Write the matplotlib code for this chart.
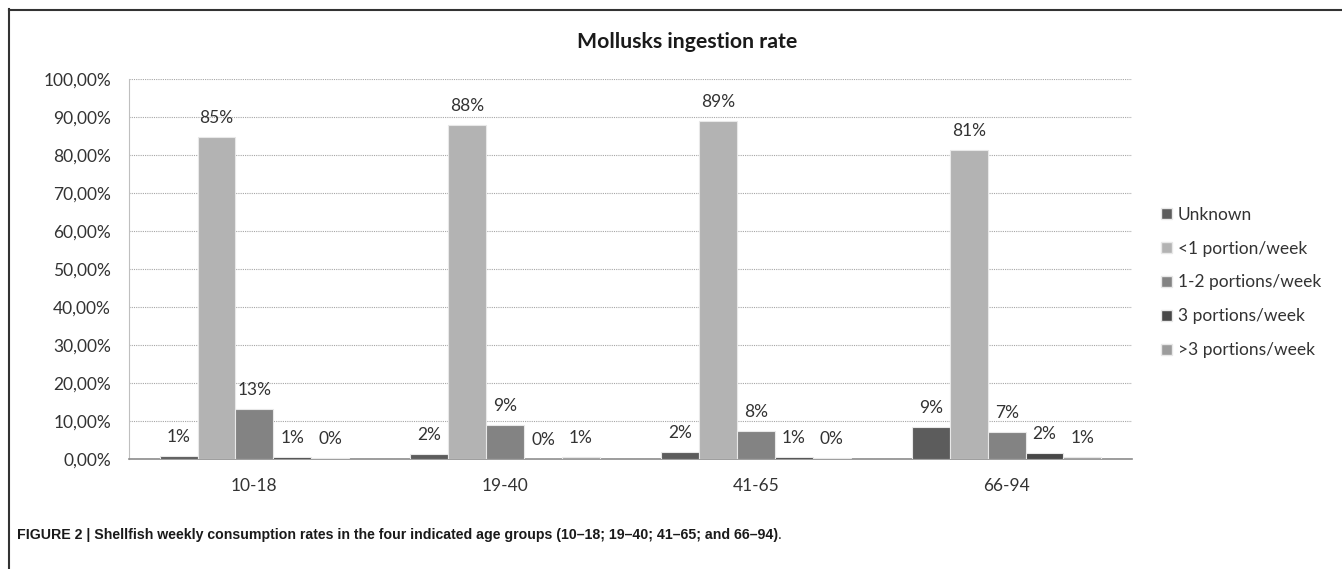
import matplotlib
matplotlib.use("Agg")
import matplotlib.pyplot as plt
import numpy as np
from matplotlib.lines import Line2D
from matplotlib.patches import Patch

# Data
groups = ["10-18", "19-40", "41-65", "66-94"]
series = ["Unknown", "<1 portion/week", "1-2 portions/week", "3 portions/week", ">3 portions/week"]
unknown = [0.9, 1.4, 1.8, 8.5]
less_one = [84.8, 88.0, 89.0, 81.2]
one_two = [13.1, 9.0, 7.4, 7.0]
three = [0.5, 0.1, 0.5, 1.5]
more_three = [0.2, 0.5, 0.2, 0.5]
labels_unknown = ["1%", "2%", "2%", "9%"]
labels_less_one = ["85%", "88%", "89%", "81%"]
labels_one_two = ["13%", "9%", "8%", "7%"]
labels_three = ["1%", "0%", "1%", "2%"]
labels_more_three = ["0%", "1%", "0%", "1%"]
yticks = [0, 10, 20, 30, 40, 50, 60, 70, 80, 90, 100]
ytick_labels = ["0,00%", "10,00%", "20,00%", "30,00%", "40,00%", "50,00%",
                "60,00%", "70,00%", "80,00%", "90,00%", "100,00%"]

values = [unknown, less_one, one_two, three, more_three]
labels = [labels_unknown, labels_less_one, labels_one_two, labels_three, labels_more_three]
colors = ["#5c5c5c", "#b3b3b3", "#838383", "#474747", "#9c9c9c"]

plt.rcParams["font.family"] = ["Lato", "DejaVu Sans"]

fig = plt.figure(figsize=(13.42, 5.69), dpi=100)
ax = fig.add_axes([129 / 1342, 1 - 459 / 569, 1003 / 1342, 380 / 569])

x = np.arange(len(groups))
w = 0.151
for i, (vals, labs, c) in enumerate(zip(values, labels, colors)):
    pos = x + (i - 2) * w
    ax.bar(pos, vals, width=w, color=c, edgecolor="#e8e8e8", linewidth=0.8,
           label=series[i], zorder=3)
    for px, v, lab in zip(pos, vals, labs):
        ax.annotate(lab, (px, v), xytext=(0, 13.7), textcoords="offset points",
                    ha="center", va="center", fontsize=12.5, color="#333333")

ax.set_xlim(-0.5, 3.5)
ax.set_ylim(0, 100)
ax.set_yticks(yticks)
ax.set_yticklabels(ytick_labels, fontsize=12.5, color="#333333")
ax.set_xticks(x)
ax.set_xticklabels(groups, fontsize=12.5, color="#333333")
ax.tick_params(axis="y", length=0, pad=13)
ax.tick_params(axis="x", length=0, pad=14)
ax.grid(axis="y", color="#a6a6a6", linestyle=(0, (1, 1)), linewidth=0.8, zorder=0)
for s in ["top", "right"]:
    ax.spines[s].set_visible(False)
ax.spines["left"].set_color("#bfbfbf")
ax.spines["bottom"].set_color("#8c8c8c")
ax.spines["bottom"].set_linewidth(1.2)

ax.text(0.512, 0.926, "Mollusks ingestion rate", transform=fig.transFigure,
        ha="center", va="center", fontsize=15.3, fontweight="bold", color="#1a1a1a")

handles = [Patch(facecolor=c, edgecolor="#e8e8e8") for c in colors]
fig.legend(handles, series, loc="upper left", bbox_to_anchor=(0.859, 0.652),
           frameon=False, fontsize=12.5, handlelength=0.6, handleheight=0.6,
           handletextpad=0.35, labelspacing=1.03, borderpad=0, labelcolor="#333333")

# frame lines
fig.add_artist(Line2D([9 / 1342, 9 / 1342], [0, 1 - 9 / 569], transform=fig.transFigure,
                      color="#333333", linewidth=1.5))
fig.add_artist(Line2D([9 / 1342, 1], [1 - 10 / 569, 1 - 10 / 569], transform=fig.transFigure,
                      color="#333333", linewidth=1.5))

cap = fig.text(17 / 1342, 1 - 535 / 569,
               "FIGURE 2 | Shellfish weekly consumption rates in the four indicated age groups (10\u201318; 19\u201340; 41\u201365; and 66\u201394)",
               ha="left", va="center", fontsize=10.2, fontweight="bold",
               family=["Liberation Sans", "DejaVu Sans"], color="#1a1a1a")
fig.add_artist(matplotlib.text.Annotation(".", xy=(1, 0.5), xycoords=cap, va="center",
                                          ha="left", fontsize=10.2, color="#1a1a1a",
                                          family=["Liberation Sans", "DejaVu Sans"]))
plt.savefig("out.png", dpi=100)
